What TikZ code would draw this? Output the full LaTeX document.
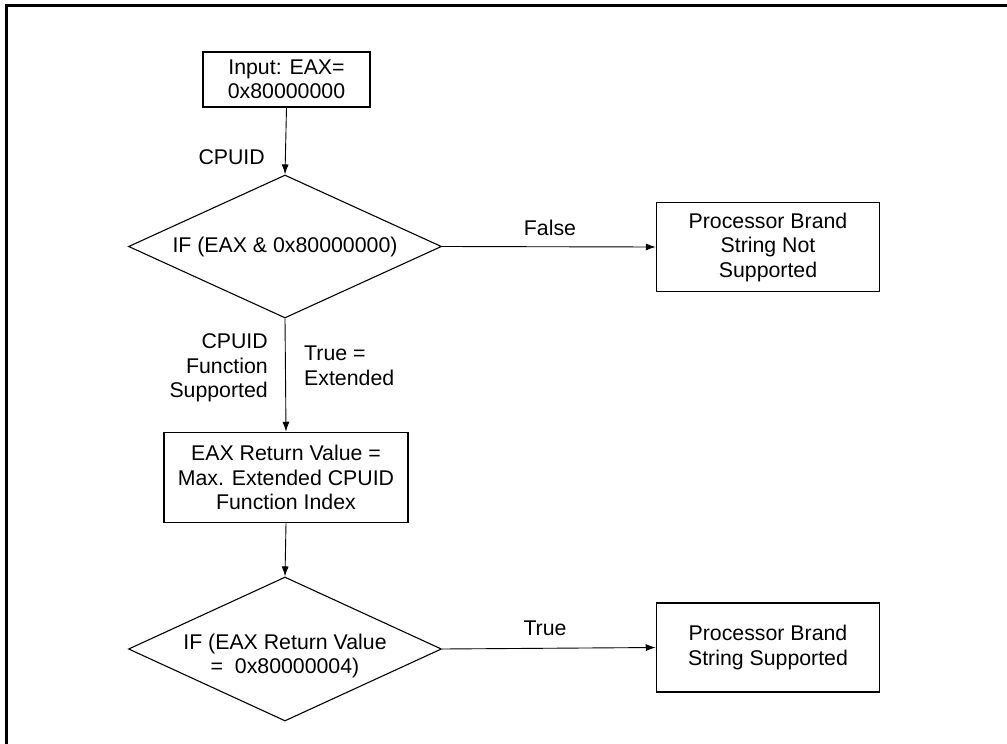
\documentclass[tikz,border=0pt]{standalone}
\usepackage{fontspec}
\setmainfont{Liberation Sans}
\usetikzlibrary{shapes.geometric,arrows.meta}
\begin{document}
\begin{tikzpicture}[x=1pt,y=-1pt,
  font=\fontsize{21.3}{24.5}\selectfont,
  box/.style={draw, line width=1.5pt, inner sep=0pt, align=center},
  decision/.style={draw, diamond, line width=1.1pt, inner sep=0pt},
  lbl/.style={inner sep=0pt},
  conn/.style={line width=0.9pt, -{Latex[length=10pt,width=7pt]}}]
\useasboundingbox (0,0) rectangle (1007,744);
\draw[line width=3pt] (6,744) -- (6,5) -- (1007,5);

\node[box, minimum width=167pt, minimum height=55pt] (b1) at (286.5,79.5) {Input: EAX=\\0x80000000};
\node[decision, minimum width=313pt, minimum height=143pt] (d1) at (285,246.5) {};
\node[lbl, align=center] (d1t) at (285,247) {IF (EAX \& 0x80000000)};
\node[box, minimum width=223pt, minimum height=89pt] (b2) at (768,247) {Processor Brand\\String Not\\Supported};
\node[box, minimum width=244pt, minimum height=90pt] (b3) at (286,477.5) {EAX Return Value =\\Max. Extended CPUID\\Function Index};
\node[decision, minimum width=313pt, minimum height=144pt] (d2) at (285,649) {};
\node[lbl, align=center] (d2t) at (285,656) {IF (EAX Return Value\\=\ \ 0x80000004)};
\node[box, minimum width=223pt, minimum height=89pt] (b4) at (768,647.5) {Processor Brand\\String Supported};

\draw[conn] (b1.south) -- (d1.north);
\draw[conn] (d1.east) -- (b2.west);
\draw[conn] (d1.south) -- (b3.north);
\draw[conn] (b3.south) -- (d2.north);
\draw[conn] (d2.east) -- (b4.west);

\node[lbl, anchor=east] (l1) at (265,157) {CPUID};
\node[lbl] (l2) at (550,228) {False};
\node[lbl, anchor=east, align=right] (l3) at (268,368) {CPUID\\Function\\Supported};
\node[lbl, anchor=west, align=left] (l4) at (304,366) {True =\\Extended};
\node[lbl] (l5) at (545,628) {True};
\end{tikzpicture}
\end{document}
